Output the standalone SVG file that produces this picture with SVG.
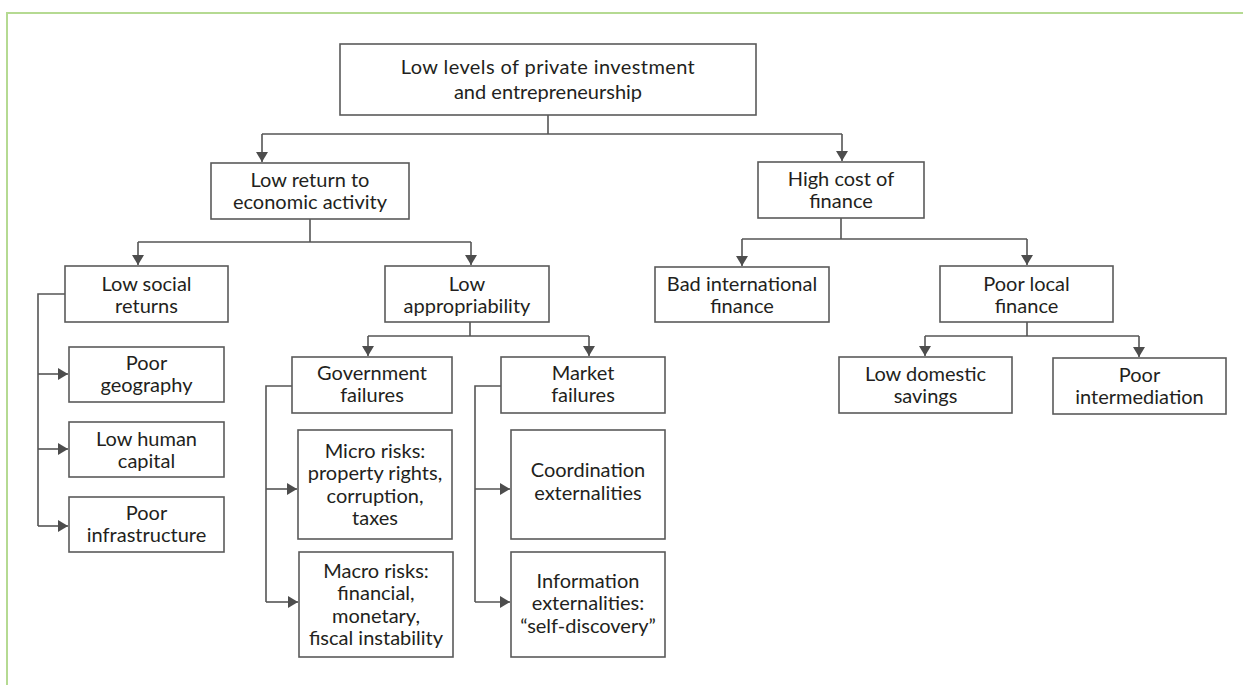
<svg xmlns="http://www.w3.org/2000/svg" width="1243" height="685" viewBox="0 0 1243 685">
<style>
.box{fill:#fff;stroke:#5a5a5a;stroke-width:1.6}
.t{font-family:Lato,"Open Sans","Liberation Sans",sans-serif;font-size:20px;fill:#231f20;text-anchor:middle}
.c{fill:none;stroke:#555;stroke-width:1.6}
.frame{fill:none;stroke:#b5da92;stroke-width:2}
</style>
<defs>
<marker id="ah" viewBox="0 0 10 12" markerWidth="10" markerHeight="12" refX="10" refY="6" orient="auto" markerUnits="userSpaceOnUse">
<path d="M0,0 L10,6 L0,12 z" fill="#4d4d4d"/>
</marker>
</defs>
<path class="frame" d="M7,685 V13 H1243"/>
<g id="connectors">
<path class="c" d="M548,115 V134 M262,134 H842"/>
<path class="c" d="M262,134 V162" marker-end="url(#ah)"/>
<path class="c" d="M842,134 V161" marker-end="url(#ah)"/>
<path class="c" d="M310,219 V242 M138,242 H471"/>
<path class="c" d="M138,242 V265" marker-end="url(#ah)"/>
<path class="c" d="M471,242 V265" marker-end="url(#ah)"/>
<path class="c" d="M841,218 V239 M742,239 H1027"/>
<path class="c" d="M742,239 V266" marker-end="url(#ah)"/>
<path class="c" d="M1027,239 V265" marker-end="url(#ah)"/>
<path class="c" d="M65,294 H38 V526"/>
<path class="c" d="M38,374 H68" marker-end="url(#ah)"/>
<path class="c" d="M38,449 H68" marker-end="url(#ah)"/>
<path class="c" d="M38,526 H68" marker-end="url(#ah)"/>
<path class="c" d="M470,322 V336 M368,336 H589"/>
<path class="c" d="M368,336 V356" marker-end="url(#ah)"/>
<path class="c" d="M589,336 V356" marker-end="url(#ah)"/>
<path class="c" d="M292,386 H266 V602"/>
<path class="c" d="M266,489 H297" marker-end="url(#ah)"/>
<path class="c" d="M266,602 H298" marker-end="url(#ah)"/>
<path class="c" d="M501,386 H475 V602"/>
<path class="c" d="M475,489 H510" marker-end="url(#ah)"/>
<path class="c" d="M475,602 H510" marker-end="url(#ah)"/>
<path class="c" d="M1027,322 V336 M925,336 H1139"/>
<path class="c" d="M925,336 V356" marker-end="url(#ah)"/>
<path class="c" d="M1139,336 V357" marker-end="url(#ah)"/>
</g>
<g id="n-top"><rect class="box" x="340" y="44" width="416" height="71"/><text class="t" x="548" y="74" letter-spacing="0.4">Low levels of private investment</text><text class="t" x="548" y="99">and entrepreneurship</text></g>
<g id="n-lowreturn"><rect class="box" x="211" y="163" width="198" height="56"/><text class="t" x="310" y="187">Low return to</text><text class="t" x="310" y="209">economic activity</text></g>
<g id="n-highcost"><rect class="box" x="758" y="162" width="166" height="56"/><text class="t" x="841" y="186">High cost of</text><text class="t" x="841" y="208">finance</text></g>
<g id="n-lowsocial"><rect class="box" x="65" y="266" width="163" height="56"/><text class="t" x="146.5" y="291">Low social</text><text class="t" x="146.5" y="313">returns</text></g>
<g id="n-lowapp"><rect class="box" x="385" y="266" width="164" height="56"/><text class="t" x="467" y="291">Low</text><text class="t" x="467" y="313">appropriability</text></g>
<g id="n-badintl"><rect class="box" x="655" y="267" width="174" height="55"/><text class="t" x="742" y="291">Bad international</text><text class="t" x="742" y="313">finance</text></g>
<g id="n-poorlocal"><rect class="box" x="940" y="266" width="173" height="56"/><text class="t" x="1026.5" y="291">Poor local</text><text class="t" x="1026.5" y="313">finance</text></g>
<g id="n-gov"><rect class="box" x="292" y="357" width="160" height="56"/><text class="t" x="372" y="380">Government</text><text class="t" x="372" y="402">failures</text></g>
<g id="n-market"><rect class="box" x="501" y="357" width="164" height="56"/><text class="t" x="583" y="380">Market</text><text class="t" x="583" y="402">failures</text></g>
<g id="n-lowdom"><rect class="box" x="839" y="357" width="173" height="56"/><text class="t" x="925.5" y="381">Low domestic</text><text class="t" x="925.5" y="403">savings</text></g>
<g id="n-poorinter"><rect class="box" x="1053" y="358" width="173" height="56"/><text class="t" x="1139.5" y="382">Poor</text><text class="t" x="1139.5" y="404">intermediation</text></g>
<g id="n-geo"><rect class="box" x="69" y="347" width="155" height="55"/><text class="t" x="146.5" y="370">Poor</text><text class="t" x="146.5" y="392">geography</text></g>
<g id="n-human"><rect class="box" x="69" y="422" width="155" height="55"/><text class="t" x="146.5" y="446">Low human</text><text class="t" x="146.5" y="468">capital</text></g>
<g id="n-infra"><rect class="box" x="69" y="497" width="155" height="55"/><text class="t" x="146.5" y="520">Poor</text><text class="t" x="146.5" y="542">infrastructure</text></g>
<g id="n-micro"><rect class="box" x="298" y="430" width="154" height="109"/><text class="t" x="375" y="457.5">Micro risks:</text><text class="t" x="375" y="480">property rights,</text><text class="t" x="375" y="502.5">corruption,</text><text class="t" x="375" y="525">taxes</text></g>
<g id="n-macro"><rect class="box" x="299" y="552" width="154" height="105"/><text class="t" x="376" y="577.5">Macro risks:</text><text class="t" x="376" y="600">financial,</text><text class="t" x="376" y="622.5">monetary,</text><text class="t" x="376" y="645">fiscal instability</text></g>
<g id="n-coord"><rect class="box" x="511" y="430" width="154" height="109"/><text class="t" x="588" y="477">Coordination</text><text class="t" x="588" y="499.5">externalities</text></g>
<g id="n-info"><rect class="box" x="511" y="552" width="154" height="105"/><text class="t" x="588" y="587.5">Information</text><text class="t" x="588" y="610">externalities:</text><text class="t" x="588" y="632.5">“self-discovery”</text></g>
</svg>
